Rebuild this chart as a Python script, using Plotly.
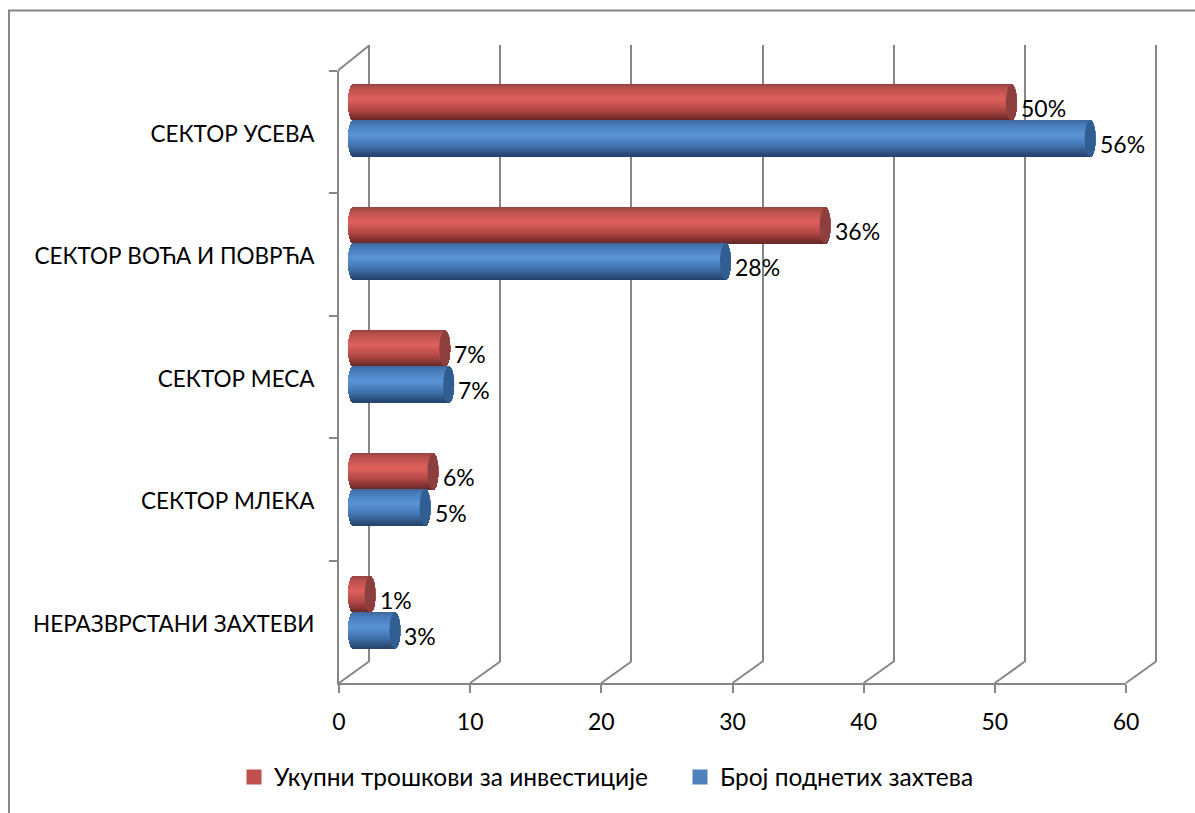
import math
import plotly.graph_objects as go

categories = ["СЕКТОР УСЕВА", "СЕКТОР ВОЋА И ПОВРЋА", "СЕКТОР МЕСА", "СЕКТОР МЛЕКА", "НЕРАЗВРСТАНИ ЗАХТЕВИ"]
cost_values = [50.2, 36.0, 7.0, 6.1, 1.3]
request_values = [56.2, 28.4, 7.3, 5.5, 3.2]
cost_labels = ["50%", "36%", "7%", "6%", "1%"]
request_labels = ["56%", "28%", "7%", "5%", "3%"]
cost_name = "Укупни трошкови за инвестиције"
request_name = "Број поднетих захтева"
x_ticks = [0, 10, 20, 30, 40, 50, 60]

W, H = 1195, 813
FONT = "Lato, 'Noto Sans', sans-serif"
GRAY = "#868686"
TXT = "#000000"

def dx(p):
    return p / W

def dy(p):
    return 1 - p / H

SCALE = (1126 - 339) / 60
positions = list(range(len(categories)))
BAND = 123.0
BAR_H = 36.0 / BAND
CAP = 5.5 / SCALE
N = 36

def mix(stops, u):
    for (a, ca), (b, cb) in zip(stops, stops[1:]):
        if u <= b:
            f = (u - a) / (b - a)
            return "rgb(%d,%d,%d)" % tuple(round(p + (q - p) * f) for p, q in zip(ca, cb))
    return "rgb(%d,%d,%d)" % stops[-1][1]

red_stops = [(0, (150, 68, 65)), (0.12, (185, 80, 77)), (0.42, (222, 96, 92)), (0.72, (178, 72, 70)), (1, (104, 40, 38))]
blue_stops = [(0, (62, 104, 156)), (0.12, (72, 122, 184)), (0.42, (90, 148, 216)), (0.72, (66, 114, 172)), (1, (38, 68, 108))]

fig = go.Figure()
# wall and frame subplots need a trace each so that they are drawn
fig.add_trace(go.Scatter(x=[None], y=[None], xaxis="x", yaxis="y", mode="markers", showlegend=False, hoverinfo="skip"))
fig.add_trace(go.Scatter(x=[None] * len(categories), y=categories, xaxis="x2", yaxis="y2", mode="markers", showlegend=False, hoverinfo="skip"))

def add_cylinder(values, shift, stops):
    for i in range(N):
        u = (i + 0.5) / N
        t = 2 * u - 1
        bulge = CAP * math.sqrt(max(0, 1 - t * t))
        ys = [p + shift + t * BAR_H / 2 for p in positions]
        fig.add_trace(go.Bar(
            y=ys, x=[v + 2 * bulge for v in values], base=[-bulge] * len(values),
            orientation="h", width=BAR_H / N * 2.0, marker=dict(color=mix(stops, u), line=dict(width=0)),
            xaxis="x3", yaxis="y3", showlegend=False, hoverinfo="skip"))

add_cylinder(cost_values, -BAR_H / 2, red_stops)
add_cylinder(request_values, BAR_H / 2, blue_stops)

for name, color in ((cost_name, "#C0504D"), (request_name, "#4F81BD")):
    fig.add_trace(go.Scatter(x=[None], y=[None], mode="markers", name=name, xaxis="x3", yaxis="y3",
                             marker=dict(symbol="square", size=15, color=color)))

shapes = [
    dict(type="line", xref="paper", yref="paper", x0=dx(8), x1=1, y0=dy(10.5), y1=dy(10.5), line=dict(color=GRAY, width=2), layer="below"),
    dict(type="line", xref="paper", yref="paper", x0=dx(9), x1=dx(9), y0=dy(10), y1=0, line=dict(color=GRAY, width=2), layer="below"),
    dict(type="line", xref="paper", yref="paper", x0=dx(338), x1=dx(368.5), y0=dy(70.5), y1=dy(46), line=dict(color=GRAY, width=2), layer="below"),
]
for t in x_ticks:
    px = 339 + t * SCALE
    shapes.append(dict(type="line", xref="paper", yref="paper", x0=dx(px), x1=dx(px + 30), y0=dy(683), y1=dy(661.5),
                       line=dict(color=GRAY, width=2), layer="below"))

annotations = []
for values, labels, shift, fill in ((cost_values, cost_labels, -BAR_H / 2, "#8C3F3C"), (request_values, request_labels, BAR_H / 2, "#305E93")):
    for p, v, lab in zip(positions, values, labels):
        c = p + shift
        shapes.append(dict(type="circle", xref="x3", yref="y3", x0=v - CAP, x1=v + CAP, y0=c - BAR_H / 2, y1=c + BAR_H / 2,
                           fillcolor=fill, line=dict(width=0), layer="above"))
        annotations.append(dict(xref="x3", yref="y3", x=v + CAP, y=c, text=lab, showarrow=False, xanchor="left", yanchor="middle",
                                xshift=2, yshift=-5, font=dict(family=FONT, size=23, color=TXT)))

x3_start = 353 - 2 * SCALE
fig.update_layout(
    width=W, height=H, autosize=False, margin=dict(l=0, r=0, t=0, b=0, autoexpand=False),
    paper_bgcolor="#ffffff", plot_bgcolor="rgba(0,0,0,0)", bargap=0, barmode="overlay",
    font=dict(family=FONT, size=22, color=TXT),
    shapes=shapes, annotations=annotations,
    xaxis=dict(domain=[dx(369 - SCALE), dx(1156 + SCALE)], range=[-1, 61], tickvals=x_ticks, showgrid=True, gridcolor=GRAY, gridwidth=2,
               showticklabels=False, zeroline=True, zerolinecolor=GRAY, zerolinewidth=2, showline=False, ticks="", anchor="y", automargin=False),
    yaxis=dict(domain=[dy(661.5), dy(45)], range=[0, 1], showgrid=False, showticklabels=False, zeroline=False, ticks="", anchor="x", automargin=False),
    xaxis2=dict(domain=[dx(339), dx(1126)], range=[0, 60], tickvals=x_ticks, showgrid=False, zeroline=False, showline=True,
                linecolor=GRAY, linewidth=2, ticks="outside", ticklen=8, tickwidth=2, tickcolor=GRAY, anchor="y2", automargin=False,
                ticklabelstandoff=9, tickfont=dict(family=FONT, size=23, color=TXT)),
    yaxis2=dict(domain=[dy(683), dy(70.5)], type="category", categoryorder="array", categoryarray=categories,
                range=[len(categories) - 0.5, -0.5], tickmode="array", tickvals=categories, showgrid=False, zeroline=False,
                showline=True, linecolor=GRAY, linewidth=2, ticks="outside", ticklen=8, tickwidth=2, tickcolor=GRAY,
                tickson="boundaries", anchor="x2", ticklabelstandoff=18, ticklabelshift=-2, automargin=False,
                tickfont=dict(family=FONT, size=22.5, color=TXT)),
    xaxis3=dict(domain=[dx(x3_start), dx(353 + 60 * SCALE)], range=[-2, 60], visible=False, anchor="y3", automargin=False),
    yaxis3=dict(domain=[dy(120.5 + 4.5 * BAND), dy(120.5 - 0.5 * BAND)], range=[4.5, -0.5], visible=False, anchor="x3", automargin=False),
    legend=dict(orientation="h", x=dx(234), xanchor="left", y=dy(777), yanchor="middle", bgcolor="rgba(0,0,0,0)",
                entrywidth=401, entrywidthmode="pixels", itemsizing="trace", traceorder="normal",
                font=dict(family=FONT, size=24.5, color=TXT)),
    showlegend=True,
)

fig.write_html("out.html", post_script="document.body.style.margin='0';document.body.style.overflow='hidden';", config={"displayModeBar": False})
